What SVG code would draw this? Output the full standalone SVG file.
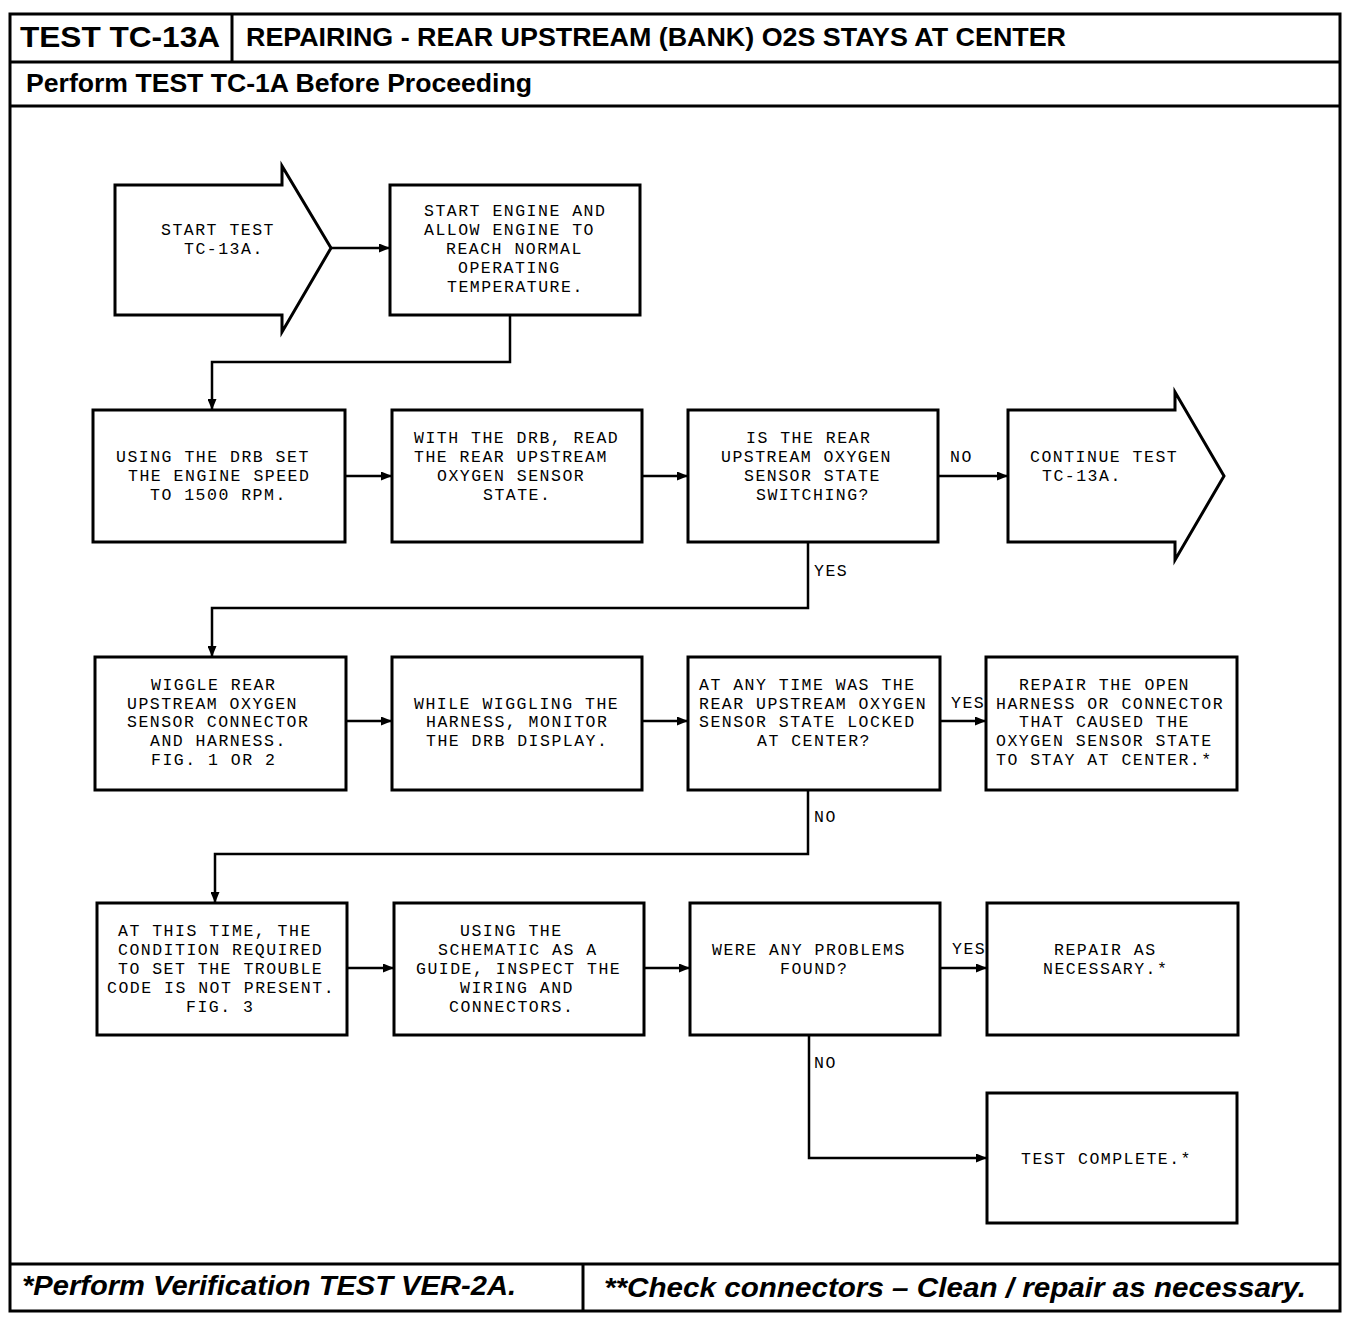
<svg xmlns="http://www.w3.org/2000/svg" width="1360" height="1320" viewBox="0 0 1360 1320">
<style>
.frame{fill:none;stroke:#000;stroke-width:3}
.box{fill:#fff;stroke:#000;stroke-width:3}
.conn{fill:none;stroke:#000;stroke-width:2.5}
.t{font-family:"Liberation Mono","DejaVu Sans Mono",monospace;font-size:16.5px;letter-spacing:1.5px;fill:#000}
.hd{font-family:"Liberation Sans",Arial,sans-serif;font-weight:bold;fill:#000}
.ft{font-family:"Liberation Sans",Arial,sans-serif;font-weight:bold;font-style:italic;fill:#000;font-size:27px}
</style>
<defs>
<marker id="ah" markerUnits="userSpaceOnUse" markerWidth="11" markerHeight="9" refX="11" refY="4.5" orient="auto">
<path d="M0,0 L11,4.5 L0,9 z" fill="#000"/>
</marker>
</defs>
<rect width="1360" height="1320" fill="#fff"/>
<g id="frame">
<rect class="frame" x="10" y="14" width="1330" height="1297"/>
<line class="frame" x1="10" y1="62" x2="1340" y2="62"/>
<line class="frame" x1="232" y1="14" x2="232" y2="62"/>
<line class="frame" x1="10" y1="106" x2="1340" y2="106"/>
<line class="frame" x1="10" y1="1264" x2="1340" y2="1264"/>
<line class="frame" x1="583" y1="1264" x2="583" y2="1311"/>
<text class="hd" x="20" y="47" font-size="30" textLength="200" lengthAdjust="spacingAndGlyphs">TEST TC-13A</text>
<text class="hd" x="246" y="46" font-size="26" textLength="820" lengthAdjust="spacingAndGlyphs">REPAIRING - REAR UPSTREAM (BANK) O2S STAYS AT CENTER</text>
<text class="hd" x="26" y="92" font-size="25" textLength="506" lengthAdjust="spacingAndGlyphs">Perform TEST TC-1A Before Proceeding</text>
<text class="ft" x="22" y="1295" textLength="494" lengthAdjust="spacingAndGlyphs">*Perform Verification TEST VER-2A.</text>
<text class="ft" x="604" y="1297" textLength="702" lengthAdjust="spacingAndGlyphs">**Check connectors – Clean / repair as necessary.</text>
</g>
<g id="connectors">
<path class="conn" d="M331,248 H390" marker-end="url(#ah)"/>
<path class="conn" d="M510,315 V362 H212 V410" marker-end="url(#ah)"/>
<path class="conn" d="M345,476 H392" marker-end="url(#ah)"/>
<path class="conn" d="M642,476 H688" marker-end="url(#ah)"/>
<path class="conn" d="M938,476 H1008" marker-end="url(#ah)"/>
<path class="conn" d="M808,542 V608 H212 V657" marker-end="url(#ah)"/>
<path class="conn" d="M346,721 H392" marker-end="url(#ah)"/>
<path class="conn" d="M642,721 H688" marker-end="url(#ah)"/>
<path class="conn" d="M940,721 H986" marker-end="url(#ah)"/>
<path class="conn" d="M808,790 V854 H215 V903" marker-end="url(#ah)"/>
<path class="conn" d="M347,968 H394" marker-end="url(#ah)"/>
<path class="conn" d="M644,968 H690" marker-end="url(#ah)"/>
<path class="conn" d="M940,968 H987" marker-end="url(#ah)"/>
<path class="conn" d="M809,1035 V1158 H987" marker-end="url(#ah)"/>
<text class="t" x="950" y="462">NO</text>
<text class="t" x="814" y="576">YES</text>
<text class="t" x="951" y="708">YES</text>
<text class="t" x="814" y="822">NO</text>
<text class="t" x="952" y="954">YES</text>
<text class="t" x="814" y="1068">NO</text>
</g>
<g id="start">
<polygon class="box" points="115,185 282,185 282,166 331,248 282,332 282,315 115,315"/>
<text class="t" x="161" y="235">START TEST</text>
<text class="t" x="184" y="254">TC-13A.</text>
</g>
<g id="warmup">
<rect class="box" x="390" y="185" width="250" height="130"/>
<text class="t" x="424" y="216">START ENGINE AND</text>
<text class="t" x="424" y="235">ALLOW ENGINE TO</text>
<text class="t" x="446" y="254">REACH NORMAL</text>
<text class="t" x="458" y="273">OPERATING</text>
<text class="t" x="447" y="292">TEMPERATURE.</text>
</g>
<g id="setrpm">
<rect class="box" x="93" y="410" width="252" height="132"/>
<text class="t" x="116" y="462">USING THE DRB SET</text>
<text class="t" x="128" y="481">THE ENGINE SPEED</text>
<text class="t" x="150" y="500">TO 1500 RPM.</text>
</g>
<g id="readstate">
<rect class="box" x="392" y="410" width="250" height="132"/>
<text class="t" x="414" y="443">WITH THE DRB, READ</text>
<text class="t" x="414" y="462">THE REAR UPSTREAM</text>
<text class="t" x="437" y="481">OXYGEN SENSOR</text>
<text class="t" x="483" y="500">STATE.</text>
</g>
<g id="switching">
<rect class="box" x="688" y="410" width="250" height="132"/>
<text class="t" x="746" y="443">IS THE REAR</text>
<text class="t" x="721" y="462">UPSTREAM OXYGEN</text>
<text class="t" x="744" y="481">SENSOR STATE</text>
<text class="t" x="756" y="500">SWITCHING?</text>
</g>
<g id="continue">
<polygon class="box" points="1008,410 1175,410 1175,392 1224,476 1175,560 1175,542 1008,542"/>
<text class="t" x="1030" y="462">CONTINUE TEST</text>
<text class="t" x="1042" y="481">TC-13A.</text>
</g>
<g id="wiggle">
<rect class="box" x="95" y="657" width="251" height="133"/>
<text class="t" x="151" y="690">WIGGLE REAR</text>
<text class="t" x="127" y="709">UPSTREAM OXYGEN</text>
<text class="t" x="127" y="727">SENSOR CONNECTOR</text>
<text class="t" x="150" y="746">AND HARNESS.</text>
<text class="t" x="151" y="765">FIG. 1 OR 2</text>
</g>
<g id="monitor">
<rect class="box" x="392" y="657" width="250" height="133"/>
<text class="t" x="414" y="709">WHILE WIGGLING THE</text>
<text class="t" x="426" y="727">HARNESS, MONITOR</text>
<text class="t" x="426" y="746">THE DRB DISPLAY.</text>
</g>
<g id="locked">
<rect class="box" x="688" y="657" width="252" height="133"/>
<text class="t" x="699" y="690">AT ANY TIME WAS THE</text>
<text class="t" x="699" y="709">REAR UPSTREAM OXYGEN</text>
<text class="t" x="699" y="727">SENSOR STATE LOCKED</text>
<text class="t" x="757" y="746">AT CENTER?</text>
</g>
<g id="repairopen">
<rect class="box" x="986" y="657" width="251" height="133"/>
<text class="t" x="1019" y="690">REPAIR THE OPEN</text>
<text class="t" x="996" y="709">HARNESS OR CONNECTOR</text>
<text class="t" x="1019" y="727">THAT CAUSED THE</text>
<text class="t" x="996" y="746">OXYGEN SENSOR STATE</text>
<text class="t" x="996" y="765">TO STAY AT CENTER.*</text>
</g>
<g id="notpresent">
<rect class="box" x="97" y="903" width="250" height="132"/>
<text class="t" x="118" y="936">AT THIS TIME, THE</text>
<text class="t" x="118" y="955">CONDITION REQUIRED</text>
<text class="t" x="118" y="974">TO SET THE TROUBLE</text>
<text class="t" x="107" y="993">CODE IS NOT PRESENT.</text>
<text class="t" x="186" y="1012">FIG. 3</text>
</g>
<g id="inspect">
<rect class="box" x="394" y="903" width="250" height="132"/>
<text class="t" x="460" y="936">USING THE</text>
<text class="t" x="438" y="955">SCHEMATIC AS A</text>
<text class="t" x="416" y="974">GUIDE, INSPECT THE</text>
<text class="t" x="460" y="993">WIRING AND</text>
<text class="t" x="449" y="1012">CONNECTORS.</text>
</g>
<g id="problems">
<rect class="box" x="690" y="903" width="250" height="132"/>
<text class="t" x="712" y="955">WERE ANY PROBLEMS</text>
<text class="t" x="780" y="974">FOUND?</text>
</g>
<g id="repairnec">
<rect class="box" x="987" y="903" width="251" height="132"/>
<text class="t" x="1054" y="955">REPAIR AS</text>
<text class="t" x="1043" y="974">NECESSARY.*</text>
</g>
<g id="complete">
<rect class="box" x="987" y="1093" width="250" height="130"/>
<text class="t" x="1021" y="1164">TEST COMPLETE.*</text>
</g>
</svg>
